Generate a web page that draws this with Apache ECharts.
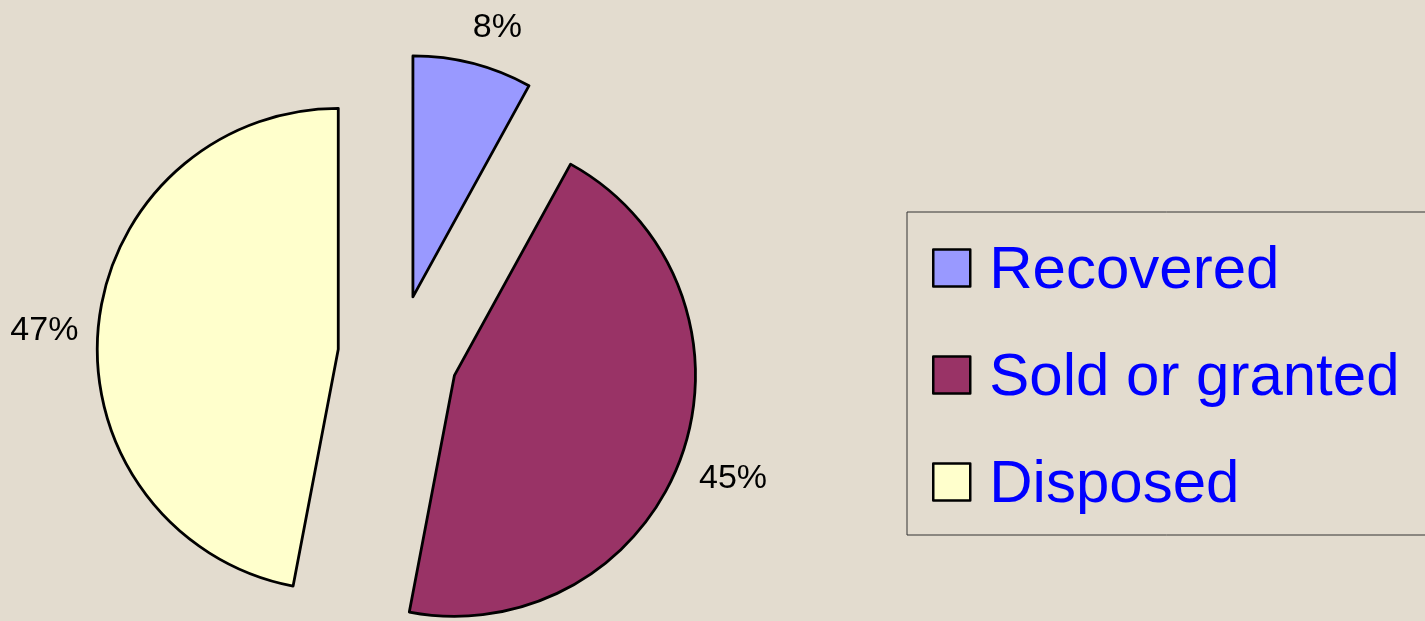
<!DOCTYPE html>
<html>
<head>
<meta charset="utf-8">
<script src="https://cdn.jsdelivr.net/npm/echarts@6/dist/echarts.min.js"></script>
<style>
  html, body { margin: 0; padding: 0; background: #e3dccf; }
  #chart { width: 1425px; height: 621px; }
</style>
</head>
<body>
<div id="chart"></div>
<script>
// data
var categories = ['Recovered', 'Sold or granted', 'Disposed'];
var shares = [8, 45, 47];
var colors = ['#9999ff', '#993366', '#ffffcc'];

// small nudges so the % labels sit where the original puts them
var labelNudge = [[-10, -16], [-6, 15], [5, 6]];

var myChart = echarts.init(document.getElementById('chart'));

var pieData = categories.map(function (name, i) {
    return { name: name, value: shares[i], selected: true, itemStyle: { color: colors[i] } };
});

var option = {
    animation: false,
    backgroundColor: '#e3dccf',
    legend: {
        orient: 'vertical',
        left: 907,
        top: 212,
        padding: [23, 60, 20, 25],
        borderColor: '#333333',
        borderWidth: 1,
        itemWidth: 37,
        itemHeight: 37,
        itemGap: 41,
        selectedMode: false,
        icon: 'rect',
        itemStyle: { borderColor: '#000', borderWidth: 2.5 },
        formatter: '{t|{name}}',
        textStyle: {
            color: '#0000ff',
            fontFamily: 'Liberation Sans, Arial, sans-serif',
            fontSize: 60,
            rich: {
                t: {
                    color: '#0000ff',
                    fontFamily: 'Liberation Sans, Arial, sans-serif',
                    fontSize: 60,
                    lineHeight: 60,
                    padding: [6, 0, 0, 14]
                }
            }
        },
        data: categories
    },
    series: [
        {
            name: 'share',
            type: 'pie',
            radius: 241,
            center: [398, 355],
            startAngle: 90,
            clockwise: true,
            selectedMode: 'multiple',
            selectedOffset: 60,
            silent: true,
            itemStyle: { borderColor: '#000', borderWidth: 2.8 },
            select: { itemStyle: { borderColor: '#000', borderWidth: 2.8 } },
            label: {
                show: true,
                position: 'outside',
                formatter: '{c}%',
                color: '#000',
                fontFamily: 'Liberation Sans, Arial, sans-serif',
                fontSize: 34
            },
            labelLine: { show: false, length: 20, length2: 0 },
            labelLayout: function (params) {
                var n = labelNudge[params.dataIndex];
                return { dx: n[0], dy: n[1] };
            },
            data: pieData
        }
    ]
};

myChart.setOption(option);
</script>
</body>
</html>
